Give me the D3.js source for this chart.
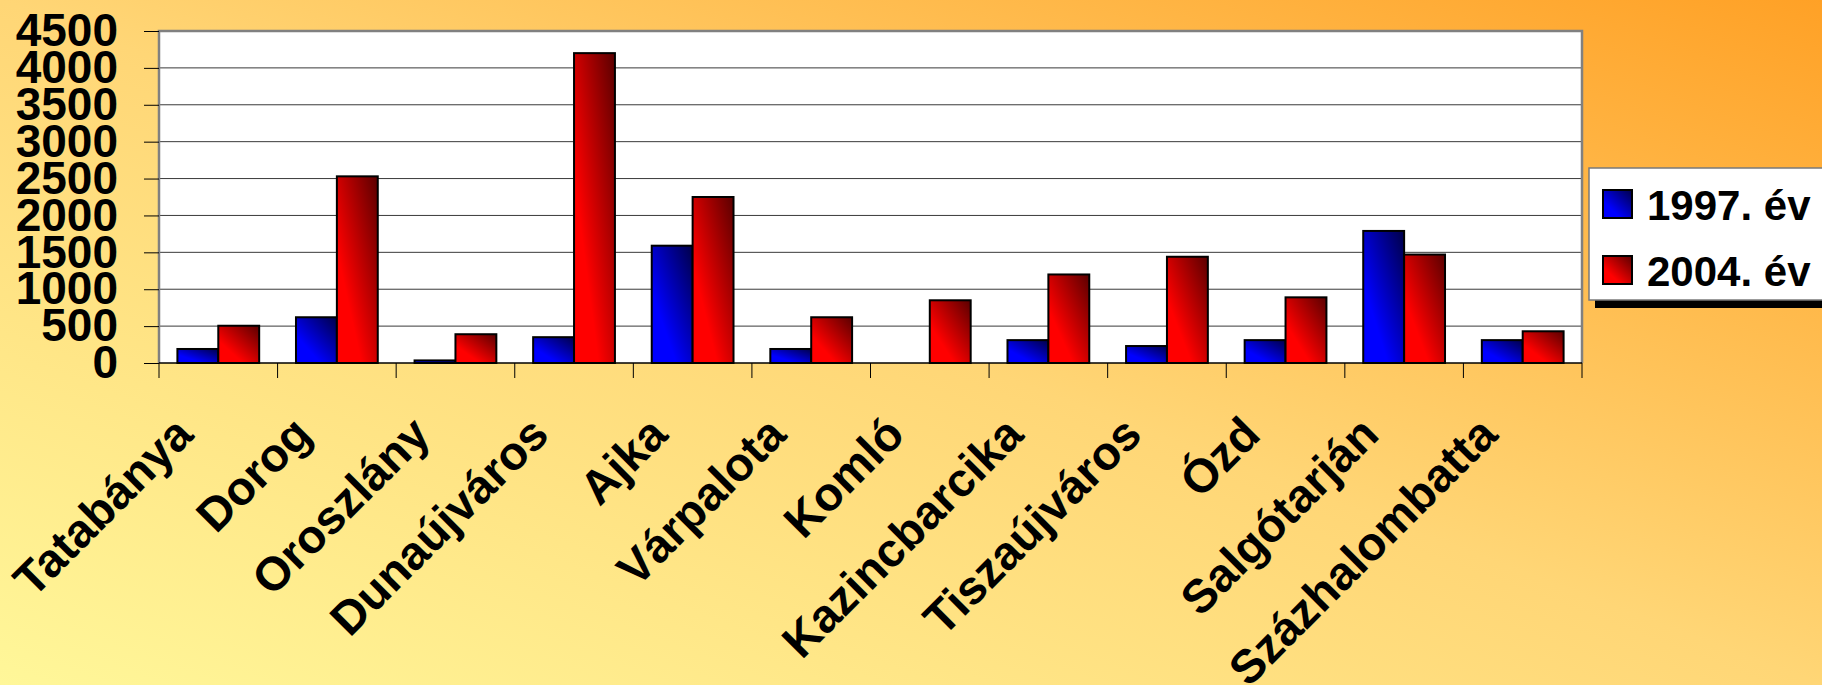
<!DOCTYPE html>
<html>
<head>
<meta charset="utf-8">
<script src="https://cdn.jsdelivr.net/npm/d3@7"></script>
<style>
  html, body { margin: 0; padding: 0; overflow: hidden; }
  svg { display: block; font-family: "Liberation Sans", Arial, Helvetica, sans-serif; font-weight: bold; }
</style>
</head>
<body>
<svg id="chart" width="1822" height="685"></svg>
<script>
const categories = ["Tatabánya","Dorog","Oroszlány","Dunaújváros","Ajka","Várpalota","Komló","Kazincbarcika","Tiszaújváros","Ózd","Salgótarján","Százhalombatta"];
const series = ["1997. év","2004. év"];
const v1997 = [190, 620, 35, 350, 1590, 190, 0, 310, 230, 310, 1790, 310];
const v2004 = [505, 2530, 390, 4200, 2250, 620, 850, 1200, 1440, 890, 1470, 430];
const yTicks = [0, 500, 1000, 1500, 2000, 2500, 3000, 3500, 4000, 4500];

const width = 1822, height = 685;
const plot = {left: 159, right: 1582, top: 31, bottom: 363};

const rows = categories.map((c, i) => ({name: c, values: [v1997[i], v2004[i]]}));

const svg = d3.select("#chart");
const defs = svg.append("defs");

// page background, pale yellow bottom-left to orange top-right
const bg = defs.append("linearGradient").attr("id","bg")
  .attr("x1",0).attr("y1",1).attr("x2",1).attr("y2",0);
bg.append("stop").attr("offset","0").attr("stop-color","#fff799");
bg.append("stop").attr("offset","0.5").attr("stop-color","#ffd676");
bg.append("stop").attr("offset","1").attr("stop-color","#ffa126");

const fills = [["#0000ff","#000048"],["#ff0000","#5a0000"]];
fills.forEach((f, i) => {
  const g = defs.append("linearGradient").attr("id","bar"+i)
    .attr("x1",0).attr("y1",1).attr("x2",1).attr("y2",0);
  g.append("stop").attr("offset","0").attr("stop-color",f[0]);
  g.append("stop").attr("offset","0.3").attr("stop-color",f[0]);
  g.append("stop").attr("offset","1").attr("stop-color",f[1]);
});

svg.append("rect").attr("width",width).attr("height",height).attr("fill","url(#bg)");

const x0 = d3.scaleBand().domain(categories).range([plot.left, plot.right]).paddingInner(0).paddingOuter(0);
const x1 = d3.scaleBand().domain(series).range([0, x0.bandwidth()]).paddingInner(0).paddingOuter(0.45);
const y = d3.scaleLinear().domain([0, 4500]).range([plot.bottom, plot.top]);

// plot area
svg.append("rect")
  .attr("x",plot.left).attr("y",plot.top)
  .attr("width",plot.right-plot.left).attr("height",plot.bottom-plot.top)
  .attr("fill","#fff");

svg.append("g").selectAll("line")
  .data(yTicks.filter(d => d > 0 && d < 4500))
  .enter().append("line")
  .attr("x1",plot.left).attr("x2",plot.right)
  .attr("y1",d => y(d)).attr("y2",d => y(d))
  .attr("stroke","#3a3a3a").attr("stroke-width",1);

// frame, gray on top/left/right
svg.append("path")
  .attr("d",`M${plot.left},${plot.bottom}V${plot.top}H${plot.right}V${plot.bottom}`)
  .attr("fill","none").attr("stroke","#808080").attr("stroke-width",2.5);

// bars
svg.append("g").selectAll("g")
  .data(rows)
  .enter().append("g")
  .attr("transform",d => "translate(" + x0(d.name) + ",0)")
  .selectAll("rect")
  .data(d => d.values.map((v, i) => ({key: series[i], value: v, i: i})))
  .enter().append("rect")
  .attr("x",d => x1(d.key))
  .attr("width",x1.bandwidth())
  .attr("y",d => y(d.value))
  .attr("height",d => y(0) - y(d.value))
  .attr("fill",d => "url(#bar" + d.i + ")")
  .attr("stroke","#000").attr("stroke-width",2);

// y axis
const yAxis = svg.append("g")
  .attr("transform","translate(" + plot.left + ",0)")
  .call(d3.axisLeft(y).tickValues(yTicks).tickSize(15).tickPadding(26).tickFormat(d3.format("d")));
yAxis.select(".domain").remove();
yAxis.selectAll("line").attr("stroke","#000");
yAxis.selectAll("text")
  .attr("font-size",46).attr("font-weight","bold").attr("fill","#000")
  .attr("font-family","'Liberation Sans', Arial, sans-serif");

// x axis baseline and category ticks
svg.append("line")
  .attr("x1",plot.left).attr("x2",plot.right)
  .attr("y1",y(0)).attr("y2",y(0))
  .attr("stroke","#000").attr("stroke-width",1.5);
svg.append("g").selectAll("line")
  .data(categories.map(c => x0(c)).concat([plot.right]))
  .enter().append("line")
  .attr("x1",d => d).attr("x2",d => d)
  .attr("y1",y(0)).attr("y2",y(0) + 15)
  .attr("stroke","#000").attr("stroke-width",1);

svg.append("g").selectAll("text")
  .data(categories)
  .enter().append("text")
  .attr("transform",d => "translate(" + (x0(d) + x0.bandwidth()/2 - 23) + "," + (y(0) + 74) + ") rotate(-45)")
  .attr("text-anchor","end")
  .attr("font-size",47)
  .attr("fill","#000")
  .text(d => d);

// legend
const lg = svg.append("g").attr("transform","translate(1589,168)");
lg.append("rect").attr("x",6).attr("y",8).attr("width",260).attr("height",132).attr("fill","#000");
lg.append("rect").attr("x",0).attr("y",0).attr("width",260).attr("height",132)
  .attr("fill","#fff").attr("stroke","#7a7a7a").attr("stroke-width",1.5);
series.forEach((s, i) => {
  lg.append("rect").attr("x",14).attr("y",22 + i*66).attr("width",29).attr("height",28)
    .attr("fill","url(#bar" + i + ")").attr("stroke","#000").attr("stroke-width",2);
  lg.append("text").attr("x",58).attr("y",52 + i*66)
    .attr("font-size",42).attr("fill","#000").text(s);
});
</script>
</body>
</html>
